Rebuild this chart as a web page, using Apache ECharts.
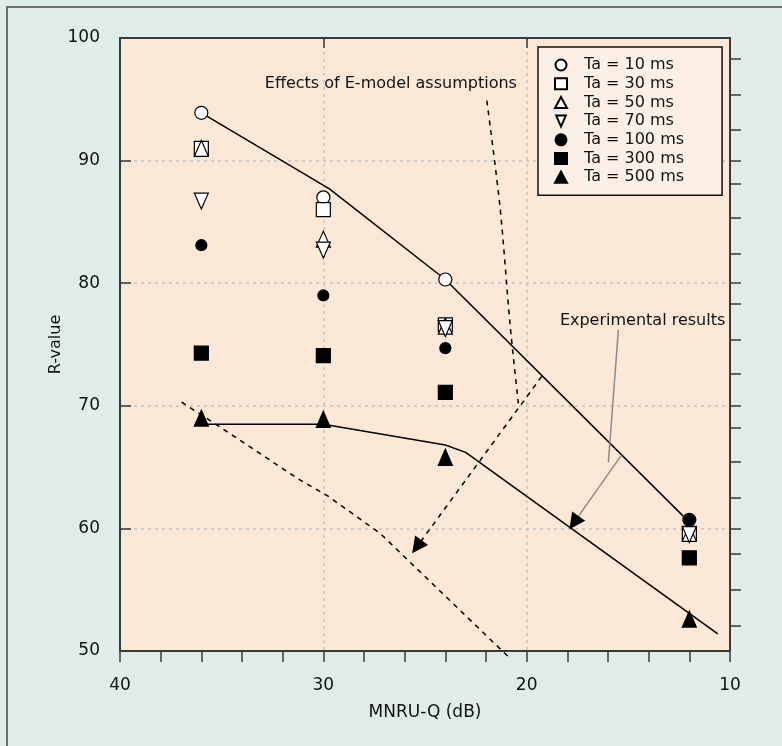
<!DOCTYPE html>
<html>
<head>
<meta charset="utf-8">
<title>R-value vs MNRU-Q</title>
<script src="https://cdn.jsdelivr.net/npm/echarts@6.0.0/dist/echarts.min.js"></script>
<style>
html, body { margin: 0; padding: 0; background: #e0ecea; }
#chart { width: 782px; height: 746px; }
</style>
</head>
<body>
<div id="chart"></div>
<script>
// MNRU-Q (dB) measurement points
const mnruQ = [36, 30, 24, 12];
// R-value per Ta
const r10 = [93.9, 87.0, 80.3, 60.7];
const r30 = [91.0, 86.0, 76.6, 59.6];
const r50 = [91.0, 83.6, 76.5, 59.6];
const r70 = [86.7, 82.7, 76.3, 59.5];
const r100 = [83.1, 79.0, 74.7, 60.7];
const r300 = [74.3, 74.1, 71.1, 57.6];
const r500 = [69.0, 68.9, 65.8, 52.6];
const seriesNames = ['Ta = 10 ms', 'Ta = 30 ms', 'Ta = 50 ms', 'Ta = 70 ms', 'Ta = 100 ms', 'Ta = 300 ms', 'Ta = 500 ms'];

// curves drawn on the chart [MNRU-Q, R]
const upperCurve = [[36, 93.9], [29.7, 87.7], [24, 80.3], [12.3, 61.0]];
const lowerCurve = [[36, 68.5], [30, 68.5], [24, 66.8], [23, 66.2], [10.6, 51.4]];
const modelCurve = [[36.97, 70.3], [35.57, 68.8], [31.15, 63.95], [29.83, 62.7], [27.21, 59.6], [20.82, 49.4]];
const modelLeader = [[21.96, 94.9], [21.31, 86.2], [20.82, 76.7], [20.41, 70.2]];
const modelArrow = [[19.26, 72.4], [25.4, 58.5]];
const expLeader = [[15.49, 76.2], [15.98, 65.4]];
const expArrowLine = [[15.33, 66.0], [17.87, 60.0]];
const expArrowHead = [[15.33, 66.0], [17.67, 60.47]];

// annotations
const noteTexts = ['Effects of E-model assumptions', 'Experimental results'];
const noteX = [26.68, 14.3];
const noteY = [96.3, 76.9];

// ticks
const xLabels = [10, 20, 30, 40];
const yLabels = [50, 60, 70, 80, 90, 100];
const rightTicks = [52.1, 55.0, 57.9, 60, 62.5, 65.4, 68.2, 70, 72.6, 75.4, 78.3, 80, 82.4, 85.3, 88.1, 90, 92.5, 95.4, 98.3];

const font = 'DejaVu Sans';
const axisColor = '#3a3a3a';
const downTriangle = 'path://M0,0L14,0L7,16Z';

function pairs(ys) {
    return mnruQ.map(function (x, i) { return [x, ys[i]]; });
}

const rValues = [r10, r30, r50, r70, r100, r300, r500];
const markers = [
    { symbol: 'circle', size: 13, fill: '#ffffff' },
    { symbol: 'rect', size: 14, fill: '#ffffff' },
    { symbol: 'triangle', size: [14, 16], fill: '#ffffff' },
    { symbol: downTriangle, size: [14, 16], fill: '#ffffff' },
    { symbol: 'circle', size: 11, fill: '#000000' },
    { symbol: 'rect', size: 14, fill: '#000000' },
    { symbol: 'triangle', size: [14, 16], fill: '#000000' }
];

function curve(data, color, type, extra) {
    let s = {
        type: 'line',
        data: data,
        symbol: 'none',
        silent: true,
        z: 3,
        lineStyle: { color: color, width: 1.5, type: type }
    };
    return Object.assign(s, extra || {});
}

let series = [];
series.push(curve(upperCurve, '#000', 'solid'));
series.push(curve(lowerCurve, '#000', 'solid'));
series.push(curve(modelCurve, '#000', [5, 5], { clip: false }));
series.push(curve(modelLeader, '#000', [5, 5], { smooth: 0.3 }));
series.push(curve(expLeader, '#8a8a8a', 'solid'));
series.push(curve(expArrowLine, '#8a8a8a', 'solid'));
// 箭头
series.push({
    type: 'lines',
    coordinateSystem: 'cartesian2d',
    silent: true,
    z: 4,
    symbol: ['none', 'triangle'],
    symbolSize: [14, 16],
    lineStyle: { color: '#000', width: 1.5, type: [5, 5], opacity: 1 },
    data: [{ coords: modelArrow }]
});
series.push({
    type: 'lines',
    coordinateSystem: 'cartesian2d',
    silent: true,
    z: 4,
    symbol: ['none', 'triangle'],
    symbolSize: [14, 16],
    lineStyle: { color: '#000', width: 0, opacity: 1 },
    data: [{ coords: expArrowHead }]
});

for (let i = 0; i < seriesNames.length; i++) {
    const m = markers[i];
    series.push({
        name: seriesNames[i],
        type: 'scatter',
        data: pairs(rValues[i]),
        symbol: m.symbol,
        symbolSize: m.size,
        z: 5,
        itemStyle: { color: m.fill, borderColor: '#000', borderWidth: 1.2, opacity: 1 }
    });
}

// 注释文字
series.push({
    type: 'scatter',
    silent: true,
    symbolSize: 0,
    z: 6,
    itemStyle: { opacity: 1 },
    data: noteTexts.map(function (t, i) { return { value: [noteX[i], noteY[i]], name: t }; }),
    label: {
        show: true,
        position: 'inside',
        formatter: '{b}',
        color: '#111',
        fontSize: 16,
        fontFamily: font
    }
});

const chart = echarts.init(document.getElementById('chart'));
const option = {
    backgroundColor: '#e0ecea',
    animation: false,
    textStyle: { fontFamily: font },
    graphic: [{
        type: 'rect',
        shape: { x: 7, y: 7, width: 900, height: 900 },
        style: { fill: 'none', stroke: '#6e6e6e', lineWidth: 2 },
        silent: true
    }],
    grid: {
        left: 120, right: 52, top: 38, bottom: 95,
        show: true,
        backgroundColor: '#fbe8d7',
        borderWidth: 0,
        containLabel: false,
        outerBoundsMode: 'none'
    },
    legend: {
        orient: 'vertical',
        left: 538,
        top: 47,
        padding: [10, 38, 10, 16],
        itemWidth: 12,
        itemHeight: 11,
        itemGap: 2.7,
        symbolKeepAspect: true,
        selectedMode: false,
        backgroundColor: '#fcf0e6',
        borderColor: '#111',
        borderWidth: 1.5,
        borderRadius: 0,
        data: seriesNames,
        textStyle: { fontSize: 16, lineHeight: 16, color: '#111', fontFamily: font, padding: [0, 0, 0, 12] }
    },
    xAxis: [{
        type: 'value',
        position: 'bottom',
        min: 10,
        max: 40,
        interval: 10,
        inverse: true,
        name: 'MNRU-Q (dB)',
        nameLocation: 'middle',
        nameGap: 53,
        nameMoveOverlap: false,
        nameTextStyle: { fontSize: 17, color: '#111', fontFamily: font },
        axisLine: { show: true, onZero: false, lineStyle: { color: axisColor, width: 2 } },
        axisTick: { show: true, inside: false, length: 11, lineStyle: { color: axisColor, width: 1.5 } },
        minorTick: { show: true, splitNumber: 5, length: 11, lineStyle: { color: axisColor, width: 1.5 } },
        axisLabel: { margin: 26, fontSize: 17, color: '#111', fontFamily: font,
            formatter: function (v) { return xLabels.indexOf(v) >= 0 ? String(v) : ''; } },
        splitLine: { show: true, lineStyle: { color: '#c4c4c4', type: [3, 4], width: 1.5 } }
    }, {
        type: 'value',
        position: 'top',
        min: 10,
        max: 40,
        interval: 10,
        inverse: true,
        axisLine: { show: true, onZero: false, lineStyle: { color: axisColor, width: 2 } },
        axisTick: { show: true, inside: true, length: 10, lineStyle: { color: axisColor, width: 1.5 } },
        axisLabel: { show: false },
        splitLine: { show: false }
    }],
    yAxis: [{
        type: 'value',
        position: 'left',
        min: 50,
        max: 100,
        interval: 10,
        name: 'R-value',
        nameLocation: 'middle',
        nameGap: 56,
        nameMoveOverlap: false,
        nameTextStyle: { fontSize: 16, color: '#111', fontFamily: font },
        axisLine: { show: true, onZero: false, lineStyle: { color: axisColor, width: 2 } },
        axisTick: { show: true, inside: true, length: 11, lineStyle: { color: axisColor, width: 1.5 } },
        axisLabel: { margin: 20, fontSize: 17, color: '#111', fontFamily: font,
            formatter: function (v) { return yLabels.indexOf(v) >= 0 ? String(v) : ''; } },
        splitLine: { show: true, lineStyle: { color: '#c4c4c4', type: [3, 4], width: 1.5 } }
    }, {
        type: 'value',
        position: 'right',
        min: 50,
        max: 100,
        axisLine: { show: true, onZero: false, lineStyle: { color: axisColor, width: 2 } },
        axisTick: { show: true, inside: false, length: 11, customValues: rightTicks, lineStyle: { color: axisColor, width: 1.5 } },
        axisLabel: { show: false },
        splitLine: { show: false }
    }],
    series: series
};
chart.setOption(option);
</script>
</body>
</html>
